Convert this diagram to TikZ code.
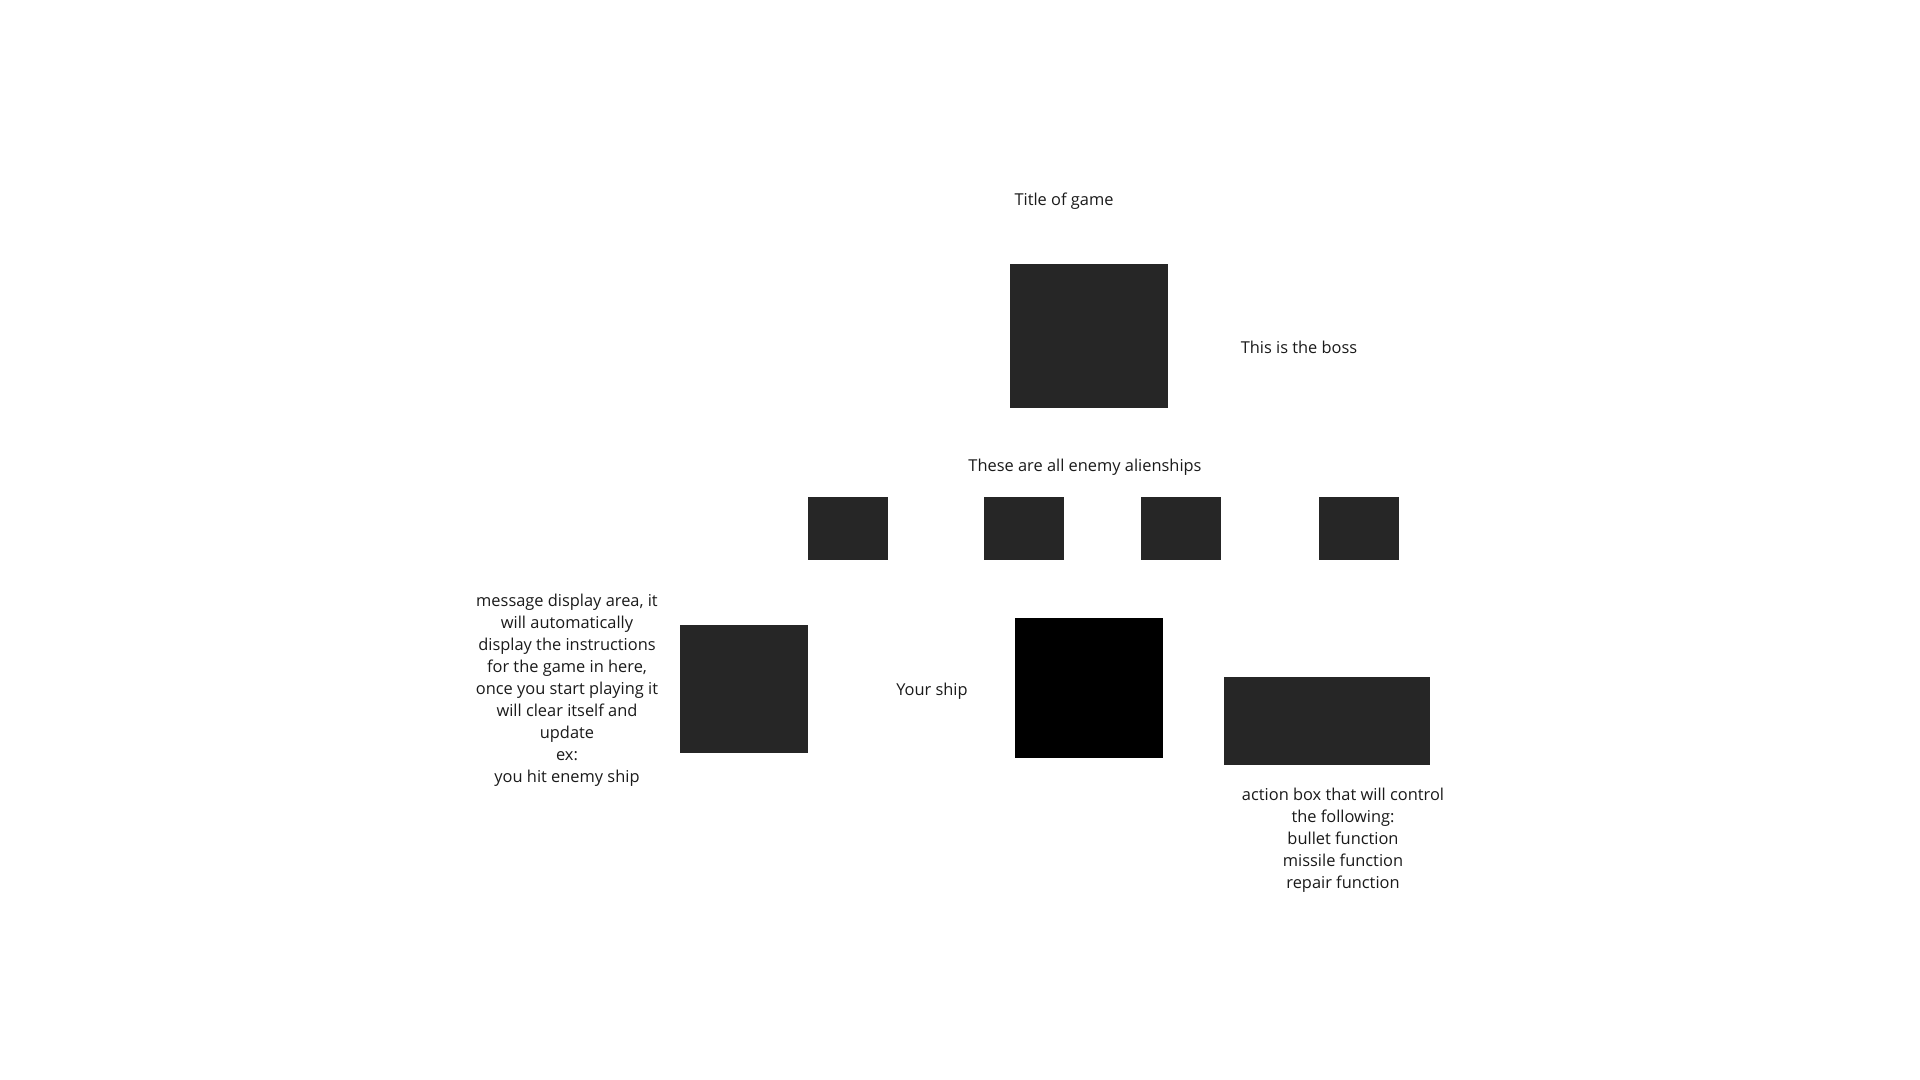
\documentclass[tikz,border=0pt]{standalone}
\usepackage{fontspec}
\setmainfont{Open Sans}
\usepackage{xcolor}
\definecolor{boxgray}{HTML}{262626}
\definecolor{ink}{HTML}{1A1A1A}

\begin{document}
\begin{tikzpicture}[x=0.5pt, y=-0.5pt,
	box/.style={fill=boxgray, inner sep=0pt},
	label/.style={text=ink, font=\fontsize{8.2}{11}\selectfont, align=center, inner sep=0pt}]
	\useasboundingbox (0,0) rectangle (1920,1080); 

	% top 
	\node[label] (title) at (1064,201) {Title of game}; 
	\node[box, minimum width=79pt, minimum height=72pt] (boss) at (1089,336) {}; 
	\node[label] (bosslabel) at (1299,347) {This is the boss}; 

	% enemy row 
	\node[label] (enemylabel) at (1085,467) {These are all enemy alienships}; 
	\foreach[count=\i] \x in {848,1024,1181,1358.5}{
		\node[box, minimum width=40pt, minimum height=31.5pt] (alien\i) at (\x,528.5) {}; 
	}

	% bottom row 
	\node[label] (msglabel) at (567,690.5) {message display area, it\\ will automatically\\ display the instructions\\ for the game in here,\\ once you start playing it\\ will clear itself and\\ update\\ ex:\\ you hit enemy ship}; 
	\node[box, minimum width=64pt, minimum height=64pt] (msg) at (744,689) {}; 
	\node[label] (shiplabel) at (932,691.5) {Your ship}; 
	\node[fill=black, inner sep=0pt, minimum width=74pt, minimum height=70pt] (ship) at (1089,688) {}; 
	\node[box, minimum width=103pt, minimum height=44pt] (action) at (1327,721) {}; 
	\node[label] (actionlabel) at (1343,840) {action box that will control\\ the following:\\ bullet function\\ missile function\\ repair function}; 
\end{tikzpicture}
\end{document}
